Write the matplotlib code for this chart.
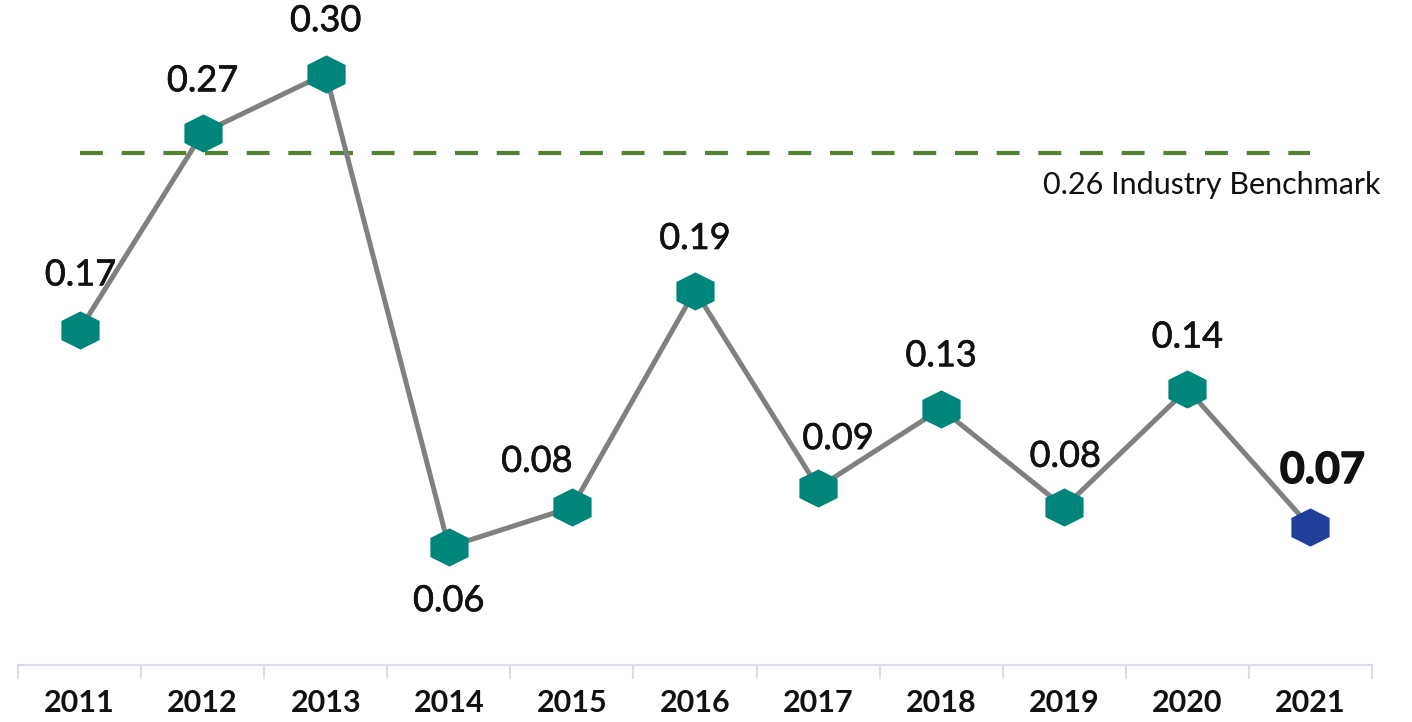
import numpy as np
import matplotlib.pyplot as plt
import matplotlib.patheffects as pe
from matplotlib.path import Path

plt.rcParams['font.family'] = ['Lato', 'DejaVu Sans']

years = ['2011', '2012', '2013', '2014', '2015', '2016',
         '2017', '2018', '2019', '2020', '2021']
values = [0.17, 0.27, 0.30, 0.06, 0.08, 0.19, 0.09, 0.13, 0.08, 0.14, 0.07]
benchmark = 0.26
benchmark_label = '0.26 Industry Benchmark'

# label offsets (pixels) relative to each point
label_offsets = [(1, 55), (0, 52), (0, 53), (0, -54), (-35, 46), (0, 52),
                 (20, 49), (0, 53), (1, 51), (0, 52), (12, 57)]

teal = '#00857A'
blue = '#1F3F99'
grey = '#808080'
green = '#548235'

# hexagon, pointy top, about as wide as it is tall
hexagon = Path([(0, 1), (1, 0.5), (1, -0.5), (0, -1), (-1, -0.5), (-1, 0.5), (0, 1)],
               [Path.MOVETO] + [Path.LINETO] * 5 + [Path.CLOSEPOLY])

fig = plt.figure(figsize=(14.12, 7.22), dpi=100)
ax = fig.add_axes([18 / 1412, 57 / 722, 1354 / 1412, 660 / 722])

x = np.arange(len(years))
ax.plot(x, values, color=grey, lw=3.6, zorder=2)
ax.plot(x[:-1], values[:-1], ls='none', marker=hexagon, ms=27.5,
        color=teal, mec='none', zorder=3)
ax.plot(x[-1:], values[-1:], ls='none', marker=hexagon, ms=27.5,
        color=blue, mec='none', zorder=3)

ax.plot([0, 10], [benchmark, benchmark], color=green, lw=3, ls=(0, (5.5, 4.5)),
        zorder=1)
ax.text(10.57, 0.2435, benchmark_label, ha='right', va='center', fontsize=22,
        color='#111111', clip_on=False)

# slightly heavier look for the value labels, the latest one heaviest
for i, v in enumerate(values):
    dx, dy = label_offsets[i]
    last = i == len(values) - 1
    ax.annotate(f'{v:.2f}', (x[i], v), xytext=(dx * 0.72, dy * 0.72),
                textcoords='offset points', ha='center', va='center',
                fontsize=31 if last else 26,
                fontweight='bold' if last else 'normal',
                color='#111111', annotation_clip=False,
                path_effects=[pe.withStroke(linewidth=1.0 if last else 0.45,
                                            foreground='#111111')])

ax.set_xlim(-0.5, 10.5)
ax.set_ylim(0, 660 / 1971)
for s in ['top', 'right', 'left']:
    ax.spines[s].set_visible(False)
ax.spines['bottom'].set_color('#D9DEE6')
ax.spines['bottom'].set_linewidth(1.5)
ax.set_yticks([])
ax.set_xticks(x)
ax.set_xticklabels(years, fontsize=22, fontweight='bold', color='#111111')
ax.tick_params(axis='x', which='major', length=0, pad=17)
ax.set_xticks(np.arange(-0.5, 11, 1), minor=True)
ax.tick_params(axis='x', which='minor', length=10, width=1.5, color='#D9DEE6')

fig.savefig('out.png', dpi=100)
